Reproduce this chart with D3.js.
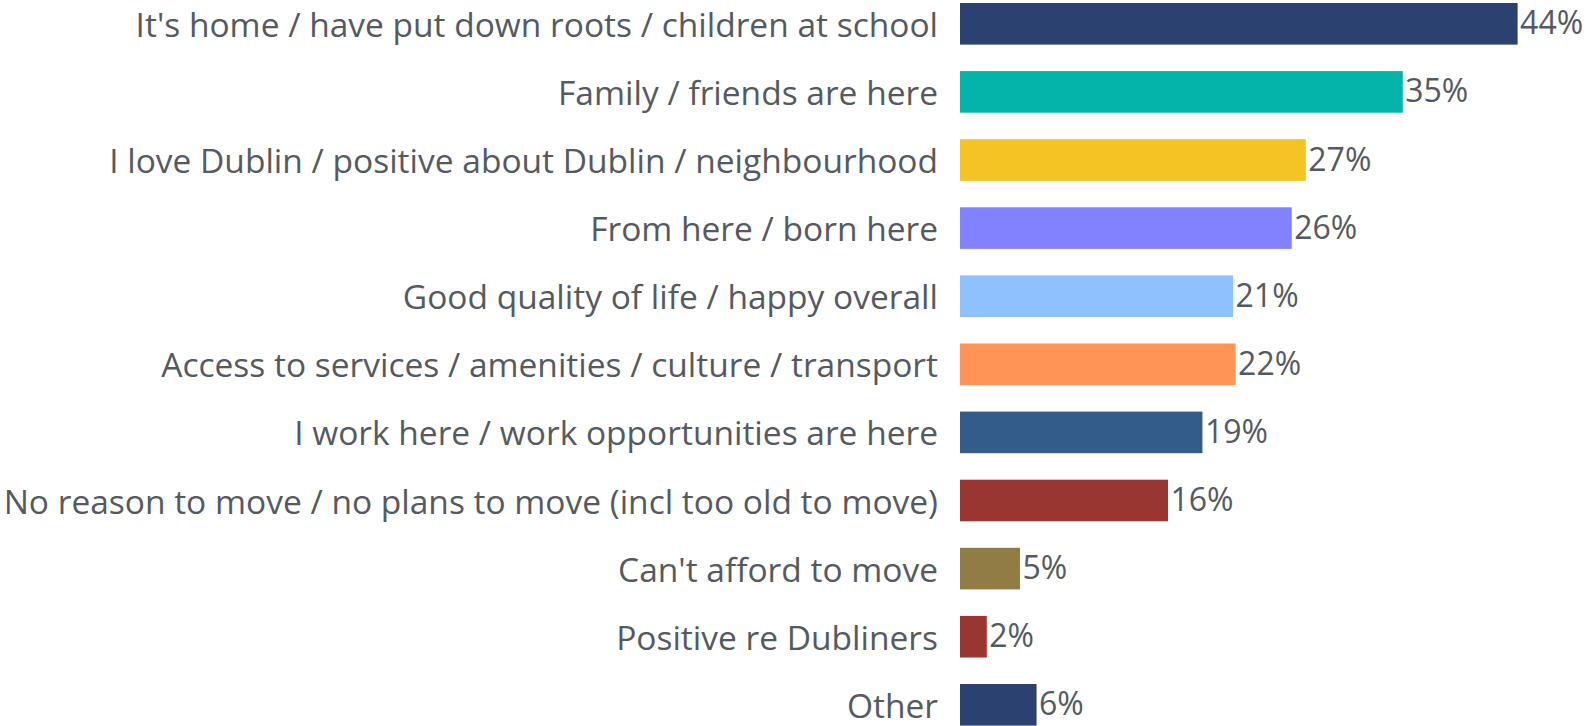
<!DOCTYPE html>
<html>
<head>
<meta charset="utf-8">
<script src="https://cdn.jsdelivr.net/npm/d3@7"></script>
<style>
  html, body { margin: 0; padding: 0; background: #fff; }
  svg text { font-family: 'Open Sans', 'Noto Sans', sans-serif; fill: #555a61; }
</style>
</head>
<body>
<div id="chart"></div>
<script>
// Reasons for staying in Dublin
var categories = [
  "It's home / have put down roots / children at school",
  'Family / friends are here',
  'I love Dublin / positive about Dublin / neighbourhood',
  'From here / born here',
  'Good quality of life / happy overall',
  'Access to services / amenities / culture / transport',
  'I work here / work opportunities are here',
  'No reason to move / no plans to move (incl too old to move)',
  "Can't afford to move",
  'Positive re Dubliners',
  'Other'
];
var values = [43.7, 34.7, 27.1, 26.0, 21.4, 21.6, 19.0, 16.3, 4.7, 2.1, 6.0];
var valueLabels = ['44%', '35%', '27%', '26%', '21%', '22%', '19%', '16%', '5%', '2%', '6%'];
var colors = ['#2b4170', '#04b3aa', '#f4c425', '#8282fe', '#8fc1ff', '#ff9456',
              '#335c8a', '#9a3631', '#927c45', '#9a3631', '#2b4170'];

var width = 1589;
var height = 726;
var barLeft = 960;

var svg = d3.select('#chart')
  .append('svg')
    .attr('width', width)
    .attr('height', height);

// Set the ranges
var x = d3.scaleLinear().domain([0, 50]).range([0, 638]);
var y = d3.scaleBand()
  .domain(categories)
  .range([3, 725.6])
  .paddingInner(0.389)
  .paddingOuter(0);

var g = svg.append('g')
  .attr('transform', 'translate(' + barLeft + ',0)');

// Bars
g.selectAll('rect.bar')
  .data(values)
.enter().append('rect')
  .attr('class', 'bar')
  .attr('x', 0)
  .attr('y', function(d, i) { return y(categories[i]); })
  .attr('width', function(d) { return x(d); })
  .attr('height', y.bandwidth())
  .attr('fill', function(d, i) { return colors[i]; });

// Value labels
g.selectAll('text.value')
  .data(values)
.enter().append('text')
  .attr('class', 'value')
  .attr('x', function(d) { return x(d) + 2.5; })
  .attr('y', function(d, i) { return y(categories[i]) + y.bandwidth() / 2; })
  .attr('dy', '0.33em')
  .style('font-size', '32px')
  .text(function(d, i) { return valueLabels[i]; });

// Category axis labels
var yAxis = d3.axisLeft(y).tickSize(0).tickPadding(0);
svg.append('g')
  .attr('class', 'y axis')
  .attr('transform', 'translate(938,0)')
  .call(yAxis)
  .call(function(a) { a.select('.domain').remove(); })
  .selectAll('text')
    .attr('dy', '0.39em')
    .style('font-size', '33.5px')
    .style('font-family', "'Open Sans', 'Noto Sans', sans-serif")
    .attr('fill', '#555a61');
</script>
</body>
</html>
